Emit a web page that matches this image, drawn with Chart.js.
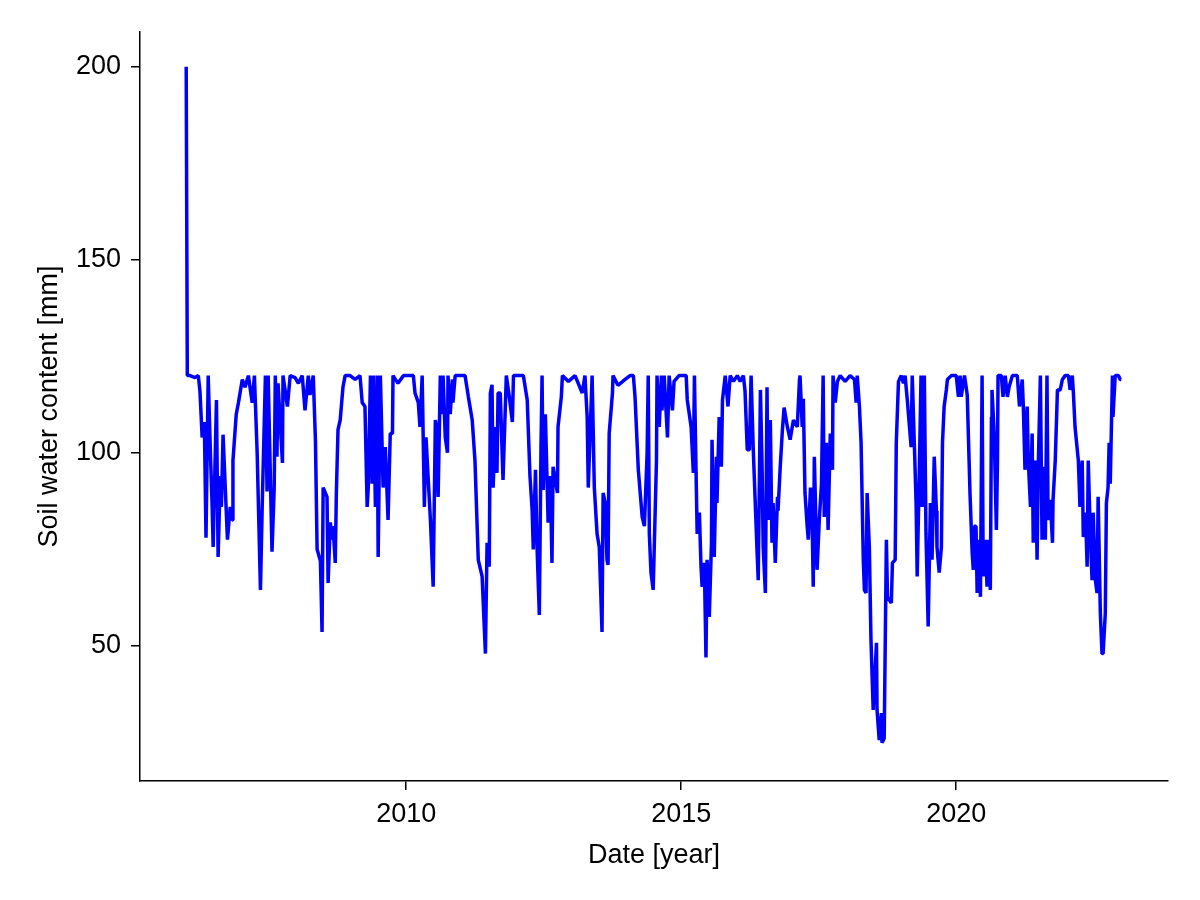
<!DOCTYPE html>
<html>
<head>
<meta charset="utf-8">
<script src="https://cdn.jsdelivr.net/npm/chart.js@4"></script>
<style>
  body { margin: 0; background: #fff; }
</style>
</head>
<body>
<canvas id="swcChart" width="1200" height="900"></canvas>
<script>
// decimal years, one line per year
const dates = [
  2006.00, 2006.02, 2006.07, 2006.16, 2006.22, 2006.25, 2006.29, 2006.33, 2006.36, 2006.40, 2006.44, 2006.47, 2006.49, 2006.55, 2006.58, 2006.62, 2006.64, 2006.67, 2006.75, 2006.80, 2006.84, 2006.85, 2006.91, 2006.95,
  2007.02, 2007.07, 2007.13, 2007.20, 2007.24, 2007.29, 2007.35, 2007.38, 2007.44, 2007.47, 2007.49, 2007.56, 2007.60, 2007.62, 2007.65, 2007.67, 2007.75, 2007.76, 2007.84, 2007.89, 2007.98,
  2008.04, 2008.11, 2008.16, 2008.22, 2008.25, 2008.31, 2008.35, 2008.38, 2008.44, 2008.47, 2008.49, 2008.56, 2008.58, 2008.62, 2008.65, 2008.67, 2008.71, 2008.73, 2008.76, 2008.80, 2008.85, 2008.89, 2008.98,
  2009.07, 2009.16, 2009.20, 2009.25, 2009.29, 2009.31, 2009.35, 2009.38, 2009.40, 2009.44, 2009.47, 2009.49, 2009.53, 2009.58, 2009.62, 2009.67, 2009.71, 2009.75, 2009.76, 2009.85, 2009.95,
  2010.07, 2010.13, 2010.16, 2010.22, 2010.25, 2010.29, 2010.33, 2010.36, 2010.44, 2010.49, 2010.53, 2010.55, 2010.58, 2010.62, 2010.65, 2010.67, 2010.71, 2010.75, 2010.76, 2010.80, 2010.84, 2010.85, 2010.89, 2010.98,
  2011.07, 2011.13, 2011.20, 2011.25, 2011.31, 2011.38, 2011.44, 2011.47, 2011.51, 2011.53, 2011.56, 2011.58, 2011.62, 2011.65, 2011.67, 2011.71, 2011.75, 2011.76, 2011.82, 2011.87, 2011.93, 2011.95,
  2012.04, 2012.13, 2012.20, 2012.25, 2012.29, 2012.31, 2012.35, 2012.38, 2012.42, 2012.45, 2012.47, 2012.49, 2012.53, 2012.58, 2012.62, 2012.65, 2012.67, 2012.75, 2012.76, 2012.82, 2012.84, 2012.95,
  2013.07, 2013.20, 2013.25, 2013.29, 2013.31, 2013.38, 2013.42, 2013.47, 2013.51, 2013.56, 2013.58, 2013.62, 2013.65, 2013.67, 2013.69, 2013.75, 2013.76, 2013.85, 2013.98,
  2014.07, 2014.13, 2014.16, 2014.22, 2014.29, 2014.33, 2014.38, 2014.40, 2014.42, 2014.45, 2014.49, 2014.55, 2014.56, 2014.60, 2014.64, 2014.65, 2014.69, 2014.75, 2014.78, 2014.84, 2014.87, 2014.96,
  2015.09, 2015.11, 2015.18, 2015.22, 2015.24, 2015.27, 2015.29, 2015.33, 2015.36, 2015.38, 2015.42, 2015.45, 2015.47, 2015.51, 2015.55, 2015.56, 2015.60, 2015.64, 2015.65, 2015.69, 2015.73, 2015.75, 2015.80, 2015.85, 2015.89, 2015.95,
  2016.02, 2016.07, 2016.13, 2016.16, 2016.20, 2016.24, 2016.27, 2016.31, 2016.38, 2016.40, 2016.44, 2016.47, 2016.49, 2016.53, 2016.56, 2016.58, 2016.62, 2016.65, 2016.67, 2016.71, 2016.75, 2016.76, 2016.80, 2016.84, 2016.87, 2016.93, 2016.98,
  2017.04, 2017.11, 2017.15, 2017.16, 2017.20, 2017.22, 2017.25, 2017.29, 2017.31, 2017.35, 2017.38, 2017.40, 2017.42, 2017.47, 2017.51, 2017.55, 2017.58, 2017.60, 2017.64, 2017.67, 2017.71, 2017.75, 2017.76, 2017.80, 2017.84, 2017.89, 2017.98,
  2018.07, 2018.15, 2018.18, 2018.20, 2018.24, 2018.27, 2018.31, 2018.33, 2018.36, 2018.38, 2018.42, 2018.45, 2018.49, 2018.55, 2018.56, 2018.60, 2018.64, 2018.65, 2018.69, 2018.73, 2018.75, 2018.82, 2018.84, 2018.89, 2018.91, 2018.95,
  2019.00, 2019.04, 2019.07, 2019.11, 2019.18, 2019.20, 2019.24, 2019.27, 2019.29, 2019.33, 2019.36, 2019.38, 2019.42, 2019.45, 2019.49, 2019.53, 2019.56, 2019.60, 2019.64, 2019.65, 2019.69, 2019.73, 2019.75, 2019.78, 2019.82, 2019.84, 2019.91,
  2020.00, 2020.04, 2020.07, 2020.09, 2020.15, 2020.20, 2020.25, 2020.29, 2020.31, 2020.33, 2020.36, 2020.38, 2020.40, 2020.44, 2020.47, 2020.49, 2020.53, 2020.56, 2020.58, 2020.62, 2020.64, 2020.65, 2020.69, 2020.73, 2020.75, 2020.76, 2020.82, 2020.85, 2020.89, 2020.93, 2020.96,
  2021.02, 2021.11, 2021.15, 2021.20, 2021.22, 2021.25, 2021.29, 2021.31, 2021.35, 2021.38, 2021.40, 2021.44, 2021.47, 2021.49, 2021.53, 2021.56, 2021.58, 2021.62, 2021.65, 2021.67, 2021.71, 2021.75, 2021.76, 2021.80, 2021.84, 2021.89, 2021.93, 2021.98,
  2022.04, 2022.07, 2022.11, 2022.13, 2022.16, 2022.22, 2022.25, 2022.29, 2022.31, 2022.35, 2022.38, 2022.40, 2022.44, 2022.47, 2022.49, 2022.53, 2022.56, 2022.58, 2022.62, 2022.65, 2022.67, 2022.71, 2022.73, 2022.76, 2022.78, 2022.80, 2022.84, 2022.85, 2022.89, 2022.95, 2022.98, 2023.00
];

// soil water content [mm]
const swc = [
  200, 120, 120, 119.5, 120, 116, 104, 108, 78, 120, 100, 87, 75.6, 113.7, 73, 94, 86, 104.7, 77.5, 86, 82.6, 98, 110, 113,
  119, 117, 120, 113, 120, 100, 64.5, 85, 120, 90, 120, 74.4, 91, 120, 99, 118, 97.4, 120, 112, 120, 119.5,
  118, 120, 111, 120, 115, 120, 103, 75, 72, 53.6, 91, 88.6, 66.3, 82, 77.5, 81, 71.5, 89.6, 106, 108.5, 117, 120, 120,
  119, 120, 113, 112, 86, 91, 120, 92, 120, 86, 120, 73, 120, 91, 101.5, 82.6, 105, 105, 120, 118, 120,
  120, 120, 115.5, 113, 106.7, 120, 86, 104, 82.6, 65.3, 108.5, 106.7, 88.6, 120, 110, 120, 104, 100, 120, 110, 119, 113, 120, 120,
  120, 114.5, 108.5, 98, 72.3, 68, 48, 76.7, 70.5, 115.5, 117.6, 91, 106.7, 94.8, 115.5, 115.5, 97.4, 93, 120, 115, 108, 120,
  120, 120, 113.7, 94, 85, 75, 95.6, 75, 58, 100.8, 120, 90.4, 110, 81.9, 94, 71.5, 96.4, 89.6, 106.7, 114.5, 120, 118.5,
  120, 115.5, 120, 109.3, 91, 120, 91, 79, 75.6, 53.6, 89.6, 87, 72.3, 71, 105, 115.5, 120, 117.5, 119,
  120, 120, 114.5, 95.6, 83.4, 81, 100, 120, 79, 69, 64.5, 98, 120, 106.7, 120, 111, 120, 104, 120, 111, 118.5, 120,
  120, 113.7, 106.7, 94.8, 120, 94.8, 79, 84.5, 70.5, 65.3, 71.5, 47, 72.3, 57.5, 76.7, 103.4, 73, 99, 87, 109.3, 96.4, 113.7, 120, 112, 120, 118.5,
  120, 118.5, 120, 116, 100.8, 100.8, 120, 100.8, 74, 67, 116.3, 96.4, 75.6, 63.7, 117, 82.6, 108.5, 76.7, 87, 71.5, 88.6, 85, 96.4, 106, 111.7, 106.7, 103.4,
  108.5, 106.7, 119, 120, 106.7, 114, 89.6, 81, 77.5, 91, 82.6, 65.3, 99, 69.7, 82.6, 92, 120, 83.4, 102.6, 80, 105, 95.6, 120, 113, 118.5, 120, 118.5,
  120, 119, 113, 120, 112, 102.6, 72.3, 64.5, 63.7, 89.6, 75.6, 51.5, 33.4, 50.8, 33.4, 25.6, 32.6, 24.9, 26, 77.5, 62.7, 61.1, 71.5, 72.3, 102.6, 118.5,
  120, 118, 120, 113.7, 101.5, 120, 101.5, 87, 68, 96.4, 120, 86, 120, 79, 55, 87, 72.3, 99, 85, 75.6, 69, 75.6, 102.6, 112, 116.3, 119, 120,
  120, 114.5, 120, 114.5, 120, 115, 89.6, 74, 69.7, 81, 81, 63.7, 77.5, 62.7, 120, 68, 77.5, 65.3, 77.5, 64.5, 109.3, 116.3, 105, 80, 98, 120, 120, 114.5, 120, 114.5, 117,
  120, 120, 112, 119, 112, 95.6, 112, 98, 86, 105, 76.7, 98, 72.3, 95.6, 120, 77.5, 96.4, 77.5, 120, 82.6, 87.8, 76.7, 87.8, 98, 116.3, 116.3, 119, 120,
  120, 116.3, 120, 115.5, 106.7, 98, 86, 98, 78.2, 84.5, 70.5, 98, 77.5, 67, 84.5, 67, 63.7, 88.6, 58.5, 48, 48, 58.5, 87, 91, 102.6, 92, 120, 109.3, 120, 120, 119, 119
];

const xTicks = [2010, 2015, 2020];
const yTicks = [50, 100, 150, 200];

Chart.defaults.font.family = "'Liberation Sans', Arial, sans-serif";
Chart.defaults.font.size = 27;
Chart.defaults.color = '#000';

const points = dates.map((d, i) => ({ x: d, y: swc[i] }));

const axisGrid = {
    display: true,
    drawOnChartArea: false,
    drawTicks: true,
    tickLength: 9,
    color: '#000',
    lineWidth: 1.5
};

const ctx = document.getElementById('swcChart').getContext('2d');
const swcChart = new Chart(ctx, {
    type: 'line',
    data: {
        datasets: [{
            label: 'Soil water content',
            data: points,
            borderColor: '#0000ff',
            borderWidth: 3.5,
            borderJoinStyle: 'bevel',
            pointRadius: 0,
            tension: 0,
            fill: false
        }]
    },
    options: {
        responsive: false,
        animation: false,
        layout: { padding: { top: 32, right: 32, bottom: 0, left: 0 } },
        plugins: {
            legend: { display: false },
            tooltip: { enabled: false }
        },
        scales: {
            x: {
                type: 'linear',
                min: 2005.16,
                max: 2023.85,
                afterBuildTicks: s => { s.ticks = xTicks.map(v => ({ value: v })); },
                afterFit: s => { s.height = 119; },
                grid: axisGrid,
                border: { display: true, color: '#000', width: 1.5 },
                ticks: { padding: 8, maxRotation: 0, callback: v => String(v) },
                title: {
                    display: true,
                    text: 'Date [year]',
                    padding: { top: 0, bottom: 28 }
                }
            },
            y: {
                min: 15,
                max: 209,
                afterBuildTicks: s => { s.ticks = yTicks.map(v => ({ value: v })); },
                afterFit: s => { s.width = 140; },
                grid: axisGrid,
                border: { display: true, color: '#000', width: 1.5 },
                ticks: { padding: 10, callback: v => String(v) },
                title: {
                    display: true,
                    text: 'Soil water content [mm]',
                    padding: { top: 33, bottom: 0 }
                }
            }
        }
    }
});
</script>
</body>
</html>
